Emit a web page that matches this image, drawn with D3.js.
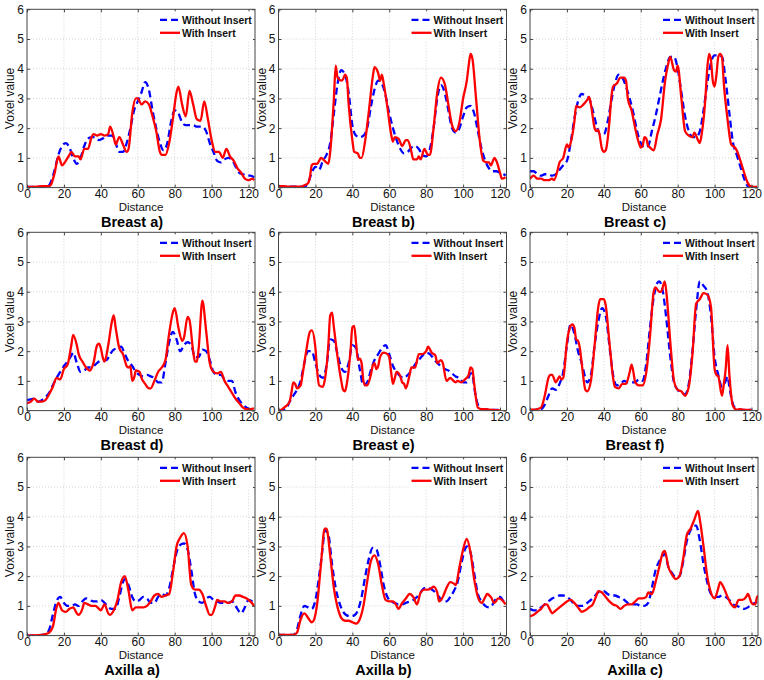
<!DOCTYPE html>
<html><head><meta charset="utf-8">
<script src="https://cdn.jsdelivr.net/npm/d3@7"></script>
<style>
html,body{margin:0;padding:0;background:#fff;}
svg{display:block;font-family:"Liberation Sans",Arial,Helvetica,sans-serif;}
</style></head>
<body><svg id="chart" width="764" height="680"></svg>
<script>
// ---------- data ----------
const titles = ["Breast a)","Breast b)","Breast c)","Breast d)","Breast e)","Breast f)","Axilla a)","Axilla b)","Axilla c)"];
const seriesNames = ["Without Insert","With Insert"];
const xTicks = [0,20,40,60,80,100,120];
const yTicks = [0,1,2,3,4,5,6];

const breastA_without = [[0,0.02],[4,0.02],[8,0.03],[11,0.03],[13,0.2],[15,0.6],[17,1.1],[19,1.4],[21,1.5],[23,1.35],[25,1.0],[27,0.8],[29,1.0],[31,1.4],[33,1.65],[35,1.7],[37,1.7],[39,1.6],[41,1.65],[43,1.75],[46,1.75],[48,1.5],[50,1.2],[52,1.2],[54,1.5],[56,2.0],[58,2.6],[60,2.9],[62,3.2],[64,3.55],[66,3.3],[68,2.6],[70,2.0],[72,1.5],[74,1.25],[76,1.5],[78,2.2],[80,2.6],[82,2.5],[84,2.2],[86,2.1],[90,2.1],[92,2.05],[95,2.05],[97,1.9],[99,1.5],[101,1.2],[103,0.9],[105,0.85],[107,0.95],[109,1.0],[111,0.95],[113,0.7],[115,0.5],[117,0.45],[119,0.4],[121,0.4],[123,0.35]];
const breastA_with = [[0,0.02],[5,0.03],[9,0.05],[12,0.05],[13,0.1],[15,0.5],[17,1.05],[19,0.75],[21,0.9],[23,1.1],[24,1.2],[26,1.05],[28,1.05],[29,0.95],[31,1.3],[33,1.3],[35,1.7],[36,1.8],[38,1.75],[40,1.8],[42,1.75],[44,1.8],[45,2.05],[47,1.7],[48,1.45],[50,1.7],[52,1.45],[54,1.2],[55,1.3],[57,2.5],[59,3.0],[60,3.0],[62,2.8],[64,2.9],[66,2.8],[68,2.4],[70,1.9],[72,1.2],[73,1.1],[75,1.1],[77,1.5],[79,2.3],[81,3.2],[82,3.4],[84,2.8],[86,2.4],[88,3.25],[90,2.8],[92,2.3],[94,2.25],[96,2.9],[98,2.3],[100,1.6],[102,1.2],[104,1.2],[106,1.0],[108,1.3],[110,1.05],[112,0.9],[114,0.65],[116,0.5],[118,0.3],[120,0.25],[122,0.3],[123,0.25]];

const breastB_without = [[0,0.03],[8,0.03],[14,0.03],[16,0.15],[18,0.5],[20,0.7],[22,0.6],[24,0.9],[26,1.1],[28,1.5],[30,2.5],[32,3.5],[34,3.95],[36,3.8],[38,3.2],[40,2.1],[42,1.75],[44,1.7],[46,1.75],[48,2.0],[50,2.7],[52,3.3],[54,3.6],[56,3.5],[58,3.1],[60,2.5],[62,2.0],[64,1.6],[66,1.3],[68,1.15],[70,1.2],[72,1.35],[74,1.4],[76,1.3],[78,1.1],[80,1.05],[82,1.3],[84,2.0],[86,3.0],[88,3.45],[90,3.2],[92,2.6],[94,2.0],[96,1.85],[98,2.0],[100,2.4],[102,2.7],[104,2.75],[106,2.5],[108,1.9],[110,1.3],[112,0.9],[114,0.65],[116,0.55],[118,0.55],[120,0.5],[122,0.45],[123,0.4]];
const breastB_with = [[0,0.05],[2,0.05],[6,0.03],[12,0.03],[14,0.08],[16,0.15],[17,0.35],[18,0.75],[19,0.8],[21,0.8],[22,0.9],[23,1.0],[25,0.9],[27,0.8],[28,1.2],[30,3.0],[31,4.1],[32,3.7],[34,3.6],[35,3.65],[36,3.8],[37,3.7],[38,2.8],[40,1.6],[41,1.2],[43,1.15],[44,1.0],[45,1.0],[47,1.6],[49,2.6],[51,3.7],[52,4.05],[54,3.85],[55,3.6],[56,3.8],[57,3.5],[59,2.7],[61,1.8],[62,1.55],[63,1.7],[65,1.65],[67,1.4],[69,1.6],[70,1.6],[72,1.2],[73,0.95],[75,0.95],[76,1.05],[77,0.95],[79,1.3],[80,1.2],[81,1.1],[82,1.1],[84,2.0],[86,3.2],[88,3.7],[90,3.5],[92,2.8],[94,2.1],[96,1.9],[98,2.2],[100,3.0],[102,3.6],[103,4.1],[104,4.5],[105,4.35],[107,3.0],[109,1.6],[111,0.9],[113,0.85],[114,0.85],[115,0.75],[117,1.0],[118,0.9],[120,0.5],[121,0.3],[123,0.35]];

const breastC_without = [[0,0.55],[2,0.55],[4,0.45],[6,0.4],[8,0.45],[10,0.45],[12,0.4],[14,0.45],[16,0.6],[18,0.75],[20,0.9],[22,1.5],[24,2.3],[26,2.9],[28,3.15],[30,3.1],[32,3.0],[34,2.6],[36,2.1],[38,1.8],[40,1.8],[42,2.2],[44,2.9],[46,3.5],[48,3.8],[50,3.7],[52,3.4],[54,3.0],[56,2.5],[58,1.9],[60,1.5],[62,1.35],[64,1.4],[66,1.9],[68,2.4],[70,3.0],[72,3.6],[74,4.1],[76,4.4],[78,4.4],[80,4.0],[82,3.2],[84,2.4],[86,1.9],[88,1.7],[90,1.7],[92,1.9],[94,2.6],[96,3.5],[98,4.2],[100,4.45],[102,4.45],[104,4.4],[106,3.6],[108,2.5],[110,1.5],[112,1.1],[114,0.7],[116,0.3],[118,0.05],[120,0.02],[123,0.02]];
const breastC_with = [[0,0.3],[2,0.4],[4,0.3],[6,0.3],[8,0.25],[10,0.25],[12,0.3],[13,0.25],[15,0.6],[16,0.85],[18,1.0],[20,1.45],[21,1.35],[22,1.5],[24,2.2],[25,2.75],[27,2.7],[29,2.8],[31,2.95],[32,3.05],[33,2.8],[35,2.0],[36,1.9],[37,1.95],[39,1.3],[40,1.2],[41,1.25],[43,2.2],[44,3.0],[45,3.4],[47,3.5],[49,3.7],[51,3.7],[52,3.6],[53,3.0],[55,2.6],[57,2.0],[59,1.5],[60,1.35],[61,1.4],[62,1.7],[63,1.65],[64,1.4],[65,1.35],[67,1.25],[69,1.8],[71,2.3],[73,3.5],[75,4.2],[76,4.4],[78,3.95],[79,3.9],[80,4.1],[82,3.0],[84,1.9],[86,1.75],[88,1.7],[89,1.85],[91,1.6],[92,1.5],[93,1.8],[95,3.0],[96,4.0],[97,4.5],[98,4.3],[99,3.6],[100,3.4],[101,3.8],[102,4.4],[103,4.5],[104,4.4],[105,3.5],[107,2.3],[109,1.45],[111,1.35],[112,1.25],[114,0.9],[116,0.5],[118,0.15],[120,0.03],[123,0.02]];

const breastD_without = [[0,0.35],[2,0.38],[4,0.4],[6,0.3],[8,0.35],[10,0.45],[12,0.6],[14,0.85],[16,1.1],[18,1.3],[20,1.5],[22,1.65],[24,1.85],[25,1.95],[27,1.6],[29,1.3],[31,1.35],[33,1.45],[35,1.45],[37,1.55],[39,1.65],[41,1.7],[43,1.7],[45,1.9],[47,2.05],[49,2.1],[51,2.15],[53,1.9],[55,1.65],[57,1.5],[59,1.3],[61,1.2],[63,1.15],[65,1.2],[67,1.15],[69,1.1],[71,0.95],[73,0.95],[75,1.6],[77,2.3],[79,2.65],[81,2.4],[83,2.0],[85,2.2],[87,2.3],[89,2.2],[91,1.8],[93,1.8],[95,2.05],[97,2.0],[99,1.7],[101,1.3],[103,1.2],[105,1.2],[107,1.05],[109,1.0],[111,1.0],[113,0.6],[115,0.35],[117,0.2],[119,0.1],[121,0.05],[123,0.05]];
const breastD_with = [[0,0.25],[2,0.3],[4,0.4],[6,0.3],[8,0.3],[10,0.35],[12,0.55],[14,0.8],[16,1.1],[18,1.05],[20,1.4],[22,1.55],[24,2.2],[25,2.55],[27,2.2],[28,1.9],[30,1.65],[32,1.45],[34,1.35],[36,1.6],[38,2.2],[39,2.25],[40,2.1],[41,1.8],[42,1.65],[44,2.2],[46,3.0],[47,3.2],[48,2.8],[50,2.1],[52,1.9],[54,1.5],[55,1.45],[56,1.5],[57,1.0],[58,1.1],[59,1.35],[61,1.3],[62,1.1],[64,0.9],[66,0.75],[67,0.75],[69,1.0],[71,1.3],[73,1.45],[75,1.7],[77,2.6],[79,3.3],[80,3.45],[82,2.8],[84,2.35],[85,2.45],[87,3.15],[88,3.05],[90,2.0],[91,1.65],[92,1.65],[93,2.1],[95,3.7],[97,2.7],[99,1.6],[101,1.3],[103,1.25],[105,1.3],[107,1.0],[109,0.8],[111,0.6],[113,0.4],[115,0.25],[117,0.1],[119,0.05],[121,0.05],[123,0.08]];

const breastE_without = [[0,0.0],[2,0.0],[4,0.05],[6,0.3],[8,0.5],[10,0.7],[12,1.0],[14,1.6],[16,2.0],[18,2.0],[20,1.6],[22,1.2],[24,1.1],[26,1.5],[28,2.4],[30,2.35],[32,1.9],[34,1.45],[36,1.3],[38,1.6],[40,2.2],[42,2.1],[44,1.4],[46,0.85],[48,0.95],[50,1.35],[52,1.7],[54,1.9],[56,2.1],[58,2.2],[60,1.9],[62,1.5],[64,1.3],[66,1.15],[68,1.1],[70,1.2],[72,1.35],[74,1.55],[76,1.7],[78,1.85],[80,1.95],[82,1.9],[84,1.75],[86,1.6],[88,1.5],[90,1.4],[92,1.35],[94,1.25],[96,1.15],[98,1.1],[100,0.95],[102,0.95],[104,1.25],[105,1.25],[106,0.8],[108,0.2],[110,0.05],[112,0.05],[114,0.03],[120,0.02]];
const breastE_with = [[0,0.0],[2,0.05],[4,0.15],[6,0.3],[7,0.6],[8,0.95],[9,0.9],[10,0.75],[12,0.85],[13,1.2],[15,2.0],[17,2.65],[18,2.7],[20,2.1],[21,1.3],[22,0.85],[24,0.8],[25,1.0],[27,2.2],[28,3.2],[29,3.3],[30,2.8],[32,1.8],[34,1.0],[35,0.7],[36,0.65],[37,0.9],[39,2.0],[40,2.8],[41,2.85],[42,2.3],[43,1.7],[44,1.75],[45,1.6],[46,1.0],[47,0.85],[48,0.85],[50,1.2],[51,1.5],[52,1.6],[53,1.4],[54,1.5],[55,1.8],[57,1.95],[59,1.9],[60,1.8],[61,1.3],[62,0.9],[63,1.1],[64,1.3],[66,1.15],[67,0.95],[68,0.9],[69,0.75],[71,1.2],[72,1.45],[74,1.45],[76,1.9],[78,1.9],[80,2.0],[81,2.15],[83,1.95],[85,1.85],[86,1.6],[88,1.7],[89,1.6],[91,1.0],[93,1.1],[94,1.05],[96,0.95],[97,1.0],[99,0.95],[101,1.05],[103,1.2],[104,1.45],[105,1.4],[106,0.9],[107,0.4],[108,0.1],[110,0.05],[112,0.05],[116,0.02],[120,0.01]];

const breastF_without = [[0,0.0],[2,0.02],[4,0.03],[6,0.05],[8,0.2],[10,0.5],[12,0.75],[14,0.7],[16,0.9],[18,1.3],[20,2.2],[22,2.9],[24,2.6],[26,2.0],[28,1.6],[30,1.1],[31,0.95],[33,1.2],[35,2.2],[37,3.0],[39,3.45],[41,3.2],[43,2.2],[45,1.2],[47,0.85],[49,0.9],[51,1.0],[53,0.95],[55,0.95],[57,0.95],[59,1.05],[61,1.0],[63,1.6],[65,2.8],[67,3.8],[69,4.3],[70,4.35],[72,4.0],[74,3.0],[76,1.8],[78,0.95],[80,0.7],[82,0.6],[84,0.55],[86,0.9],[88,2.0],[90,3.4],[92,4.35],[94,4.2],[96,4.0],[98,3.2],[100,1.8],[102,1.2],[104,0.8],[106,1.0],[107,1.15],[108,0.8],[110,0.2],[112,0.05],[114,0.02],[120,0.02]];
const breastF_with = [[0,0.03],[2,0.03],[4,0.05],[6,0.1],[8,0.5],[10,1.1],[11,1.2],[12,1.2],[14,0.95],[15,1.05],[16,1.15],[17,1.05],[18,1.1],[20,2.3],[22,2.85],[23,2.9],[24,2.8],[25,2.4],[26,2.35],[27,2.1],[28,1.6],[30,0.7],[31,0.65],[33,1.0],[35,2.2],[37,3.5],[38,3.75],[40,3.75],[41,3.55],[43,2.3],[45,1.1],[46,0.8],[48,0.75],[50,0.9],[52,0.9],[54,1.3],[55,1.55],[56,1.3],[57,0.95],[59,0.85],[61,0.85],[63,1.3],[65,2.5],[67,4.0],[68,4.15],[70,4.0],[71,4.0],[73,4.35],[74,3.9],[76,2.3],[78,1.0],[80,0.7],[82,0.65],[84,0.5],[86,0.8],[88,1.9],[90,3.6],[92,3.75],[94,3.95],[96,3.9],[98,3.5],[100,1.4],[101,1.2],[102,1.15],[104,0.5],[105,0.9],[106,1.4],[107,2.2],[108,1.2],[110,0.15],[112,0.03],[114,0.05],[116,0.02],[120,0.02]];

const axillaA_without = [[0,0.0],[4,0.0],[8,0.02],[10,0.05],[12,0.2],[14,0.7],[16,1.15],[18,1.3],[20,1.1],[22,1.0],[24,1.0],[26,1.05],[28,1.0],[30,1.15],[32,1.25],[34,1.2],[36,1.15],[38,1.15],[40,1.2],[42,1.1],[44,0.95],[46,0.9],[48,0.9],[50,1.3],[52,1.8],[53,1.9],[55,1.7],[57,1.3],[59,1.15],[61,1.2],[63,1.3],[65,1.25],[67,1.1],[69,1.1],[71,1.3],[73,1.4],[75,1.35],[77,1.6],[79,2.2],[81,2.8],[83,3.05],[85,3.1],[87,2.9],[89,2.2],[91,1.4],[93,1.15],[95,1.1],[97,1.25],[99,1.3],[101,1.2],[103,1.15],[105,1.1],[107,1.1],[109,1.1],[111,1.15],[113,1.0],[115,0.8],[116,0.75],[118,0.95],[120,1.2],[122,1.15],[123,1.1]];
const axillaA_with = [[0,0.0],[8,0.02],[10,0.05],[12,0.1],[14,0.3],[16,0.95],[17,1.1],[19,0.85],[21,0.8],[23,0.9],[25,0.95],[27,0.75],[28,0.7],[30,0.9],[31,1.1],[33,1.05],[35,1.0],[37,1.0],[39,0.9],[40,0.85],[42,1.05],[44,0.75],[45,0.7],[47,0.85],[49,1.2],[51,1.8],[53,2.0],[55,1.5],[57,0.85],[59,0.95],[61,0.95],[63,0.95],[65,1.0],[67,1.15],[69,1.35],[71,1.4],[73,1.3],[75,1.35],[77,1.4],[79,2.1],[81,3.0],[83,3.3],[85,3.45],[87,3.0],[89,1.7],[91,1.55],[93,1.55],[95,1.4],[97,1.0],[99,0.7],[100,0.7],[102,1.0],[103,1.2],[105,1.15],[107,1.15],[109,1.1],[111,1.15],[113,1.35],[115,1.35],[117,1.3],[119,1.25],[121,1.15],[123,1.0]];

const axillaB_without = [[0,0.02],[8,0.02],[10,0.2],[12,0.7],[14,1.0],[16,0.95],[18,0.9],[20,1.2],[22,2.0],[24,3.0],[25,3.55],[27,3.4],[29,2.4],[31,1.6],[33,1.1],[35,0.8],[37,0.68],[39,0.65],[41,0.68],[43,0.85],[45,1.3],[47,2.0],[49,2.6],[51,2.95],[53,2.9],[55,2.4],[57,1.7],[59,1.3],[61,1.15],[63,1.1],[65,1.05],[67,1.05],[69,1.1],[71,1.15],[73,1.2],[75,1.3],[77,1.45],[79,1.6],[81,1.6],[83,1.55],[85,1.45],[87,1.3],[89,1.15],[91,1.15],[93,1.3],[95,1.5],[97,1.8],[99,2.4],[101,2.9],[102,3.0],[104,2.8],[106,2.1],[108,1.4],[110,1.15],[112,1.0],[114,0.95],[116,1.05],[118,1.25],[120,1.3],[122,1.15],[123,1.1]];
const axillaB_with = [[0,0.02],[8,0.02],[10,0.1],[12,0.55],[14,0.75],[16,0.6],[18,0.45],[19,0.5],[21,1.1],[23,2.4],[25,3.6],[26,3.6],[28,2.7],[30,1.6],[32,0.95],[34,0.6],[36,0.5],[38,0.5],[40,0.45],[42,0.4],[44,0.55],[46,1.0],[48,1.8],[50,2.5],[52,2.7],[54,2.4],[56,1.7],[58,1.2],[60,1.15],[62,1.15],[64,1.0],[65,0.9],[67,1.1],[69,1.25],[71,1.4],[73,1.3],[75,1.05],[77,1.45],[79,1.55],[81,1.55],[83,1.6],[84,1.65],[86,1.45],[87,1.15],[89,1.3],[91,1.6],[93,1.8],[95,1.75],[96,1.7],[98,2.3],[100,2.9],[102,3.25],[104,2.8],[106,1.9],[108,1.3],[110,1.1],[112,1.3],[113,1.4],[115,1.3],[117,1.1],[119,1.25],[121,1.2],[123,1.05]];

const axillaC_without = [[0,0.9],[2,0.85],[4,0.85],[6,0.95],[8,1.05],[10,1.15],[12,1.25],[14,1.3],[16,1.35],[18,1.35],[20,1.3],[22,1.2],[24,1.05],[26,1.0],[28,1.0],[30,1.05],[32,1.15],[34,1.25],[36,1.4],[38,1.5],[40,1.5],[42,1.4],[44,1.35],[46,1.35],[48,1.3],[50,1.25],[52,1.15],[54,1.05],[56,1.05],[58,1.05],[60,1.0],[62,1.0],[64,1.1],[66,1.6],[68,2.2],[70,2.5],[72,2.7],[73,2.75],[75,2.3],[77,2.1],[79,1.95],[81,2.0],[83,2.5],[85,3.2],[87,3.55],[89,3.7],[90,3.7],[92,3.2],[94,2.4],[96,1.8],[98,1.4],[100,1.3],[102,1.3],[104,1.35],[106,1.3],[108,1.2],[110,1.05],[112,1.0],[114,0.95],[116,0.9],[118,0.95],[120,1.05],[122,1.1],[123,1.15]];
const axillaC_with = [[0,0.65],[2,0.7],[4,0.8],[6,0.9],[8,1.05],[9,1.05],[11,0.85],[12,0.75],[14,0.85],[16,0.95],[18,1.05],[20,1.15],[22,1.2],[24,1.1],[26,0.95],[28,0.8],[30,0.85],[32,0.95],[34,1.05],[36,1.35],[37,1.5],[39,1.45],[41,1.3],[43,1.15],[45,1.05],[47,1.0],[49,0.9],[51,1.0],[53,1.05],[55,1.05],[57,1.15],[59,1.25],[61,1.25],[63,1.3],[64,1.45],[66,1.4],[68,1.8],[70,2.3],[72,2.8],[73,2.85],[75,2.3],[77,2.05],[79,1.9],[81,2.0],[83,2.6],[85,3.4],[87,3.6],[89,3.9],[91,4.2],[92,3.9],[94,3.0],[96,2.0],[98,1.45],[100,1.25],[102,1.6],[103,1.8],[105,1.6],[107,1.3],[109,1.05],[111,0.95],[113,1.2],[115,1.2],[117,1.3],[118,1.4],[120,1.1],[121,1.05],[122,1.05],[123,1.3],[124,1.35]];

const withoutSeries = [breastA_without,breastB_without,breastC_without,breastD_without,breastE_without,breastF_without,axillaA_without,axillaB_without,axillaC_without];
const withSeries = [breastA_with,breastB_with,breastC_with,breastD_with,breastE_with,breastF_with,axillaA_with,axillaB_with,axillaC_with];

// ---------- layout ----------
const colLeft = [27, 278.5, 530];
const rowTop = [9.3, 232.3, 457.3];
const pw = 228, ph = 178.3;
const blue = "#0000ff", red = "#ff0000";
const fontFam = '"Liberation Sans", Arial, Helvetica, sans-serif';

const svg = d3.select("#chart");
const defs = svg.append("defs");

titles.forEach((title, i) => {
  const col = i % 3, row = Math.floor(i / 3);
  const left = colLeft[col], top = rowTop[row];
  const x = d3.scaleLinear().domain([0, 123.5]).range([0, pw]);
  const y = d3.scaleLinear().domain([0, 6]).range([ph, 0]);
  const g = svg.append("g").attr("transform", `translate(${left},${top})`);

  defs.append("clipPath").attr("id", "clip" + i)
    .append("rect").attr("width", pw).attr("height", ph);

  g.append("rect").attr("width", pw).attr("height", ph).attr("fill", "#fff");

  // grid
  const grid = g.append("g").attr("stroke", "#c8c8c8").attr("stroke-width", 0.8).attr("stroke-dasharray", "1,2");
  grid.selectAll("line.gx").data(xTicks.filter(t => t > 0)).enter().append("line")
    .attr("x1", d => x(d)).attr("x2", d => x(d)).attr("y1", 0).attr("y2", ph);
  grid.selectAll("line.gy").data(yTicks.filter(t => t > 0 && t < 6)).enter().append("line")
    .attr("x1", 0).attr("x2", pw).attr("y1", d => y(d)).attr("y2", d => y(d));

  // lines
  const line = d3.line().x(d => x(d[0])).y(d => y(d[1])).curve(d3.curveMonotoneX);
  const lg = g.append("g").attr("clip-path", `url(#clip${i})`);
  lg.append("path").datum(withoutSeries[i]).attr("d", line)
    .attr("fill", "none").attr("stroke", blue).attr("stroke-width", 2.3)
    .attr("stroke-dasharray", "7,4");
  lg.append("path").datum(withSeries[i]).attr("d", line)
    .attr("fill", "none").attr("stroke", red).attr("stroke-width", 2.3);

  // axes
  g.append("g").attr("transform", `translate(0,${ph})`)
    .call(d3.axisBottom(x).tickValues(xTicks).tickFormat(d3.format("d")).tickSizeInner(-3).tickSizeOuter(0).tickPadding(2));
  g.append("g")
    .call(d3.axisLeft(y).tickValues(yTicks).tickFormat(d3.format("d")).tickSizeInner(-3).tickSizeOuter(0).tickPadding(3));
  g.append("g").call(d3.axisTop(x).tickValues(xTicks).tickSizeInner(-3).tickSizeOuter(0).tickFormat(""));
  g.append("g").attr("transform", `translate(${pw},0)`)
    .call(d3.axisRight(y).tickValues(yTicks).tickSizeInner(-3).tickSizeOuter(0).tickFormat(""));
  svg.selectAll(".domain").remove();
  g.selectAll(".tick line").attr("stroke", "#444");
  g.selectAll(".tick text").attr("font-size", 12).attr("font-family", fontFam).attr("fill", "#111");

  // box
  g.append("rect").attr("width", pw).attr("height", ph).attr("fill", "none")
    .attr("stroke", "#444").attr("stroke-width", 1);

  // legend
  const leg = g.append("g");
  leg.append("rect").attr("x", pw - 98).attr("y", 2).attr("width", 96).attr("height", 30).attr("fill", "#fff");
  [0, 1].forEach(k => {
    const ly = 10.5 + k * 13;
    leg.append("line").attr("x1", pw - 95).attr("x2", pw - 75).attr("y1", ly).attr("y2", ly)
      .attr("stroke", k === 0 ? blue : red).attr("stroke-width", 2.3)
      .attr("stroke-dasharray", k === 0 ? "7,4" : null);
    leg.append("text").attr("x", pw - 73).attr("y", ly).attr("dy", "0.36em")
      .attr("font-size", 10.4).attr("font-weight", "bold").attr("font-family", fontFam)
      .attr("fill", "#111").text(seriesNames[k]);
  });

  // axis labels
  g.append("text").attr("x", pw / 2).attr("y", ph + 23.8).attr("text-anchor", "middle")
    .attr("font-size", 11.5).attr("font-family", fontFam).attr("fill", "#111").text("Distance");
  g.append("text").attr("transform", `translate(-17,${ph / 2}) rotate(-90)`)
    .attr("text-anchor", "middle").attr("dy", "0.36em")
    .attr("font-size", 12).attr("font-family", fontFam).attr("fill", "#111").text("Voxel value");
  // title
  g.append("text").attr("x", pw / 2 - 9).attr("y", ph + 39).attr("text-anchor", "middle")
    .attr("font-size", 14.5).attr("font-weight", "bold").attr("font-family", fontFam)
    .attr("fill", "#000").text(title);
});
</script></body></html>
